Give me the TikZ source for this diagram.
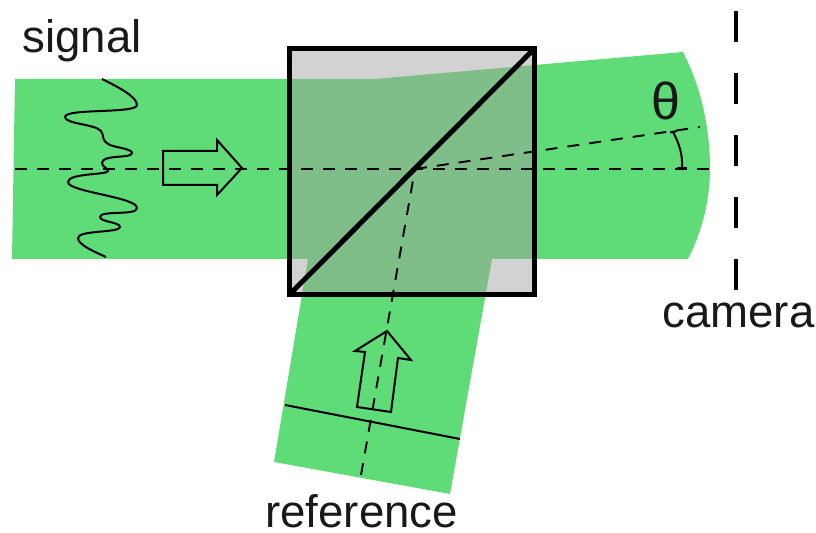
\documentclass[tikz,border=0pt]{standalone}
\usepackage{fontspec}
\setmainfont{Liberation Sans}
\definecolor{beamgreen}{HTML}{5FDC78}
\definecolor{overlapgreen}{HTML}{7FBD89}
\definecolor{cubegray}{HTML}{D2D2D2}
\tikzset{
    axisline/.style={black, line width=0.95pt, dash pattern=on 6pt off 5pt},
    thinline/.style={black, line width=1pt},
    labeltext/.style={anchor=base west, inner sep=0pt, font=\fontsize{22.8}{26}\selectfont, text=black!90}
}
\begin{document}
\begin{tikzpicture}[x=0.5pt,y=-0.5pt]
    \useasboundingbox (0,0) rectangle (816,533);

    % Beam outlines
    \def\signalbeam{(15,79) -- (375,79) -- (683,52) .. controls (700,85) and (710,125) .. (710,169) .. controls (710,200) and (702,232) .. (688,259) -- (12,259) -- cycle}
    \def\referencebeam{(308,259) -- (492,259) -- (450,494) -- (274,462) -- cycle}
    \fill[beamgreen] \signalbeam;
    \fill[beamgreen] \referencebeam;

    % Cube interior
    \fill[cubegray] (289.5,48.5) rectangle (534.5,294.5);
    \begin{scope}
        \clip (289.5,48.5) rectangle (534.5,294.5);
        \fill[overlapgreen] \signalbeam;
        \fill[overlapgreen] \referencebeam;
    \end{scope}

    % Points on the axes
    \coordinate (signalstart) at (15,169);
    \coordinate (signalend) at (710,169);
    \coordinate (split) at (415,169);
    \coordinate (tiltedend) at (700,127);
    \coordinate (referenceend) at (361,475);

    % Axes
    \draw[axisline] (signalstart) -- (signalend);
    \draw[axisline] (split) -- (tiltedend);
    \draw[axisline] (referenceend) -- (split);

    % Cube and splitting surface
    \draw[black, line width=2.5pt] (289.5,48.5) rectangle (534.5,294.5);
    \draw[black, line width=2.5pt] (289.5,294.5) -- (534.5,48.5);

    % Signal waveform
    \draw[thinline] (102,79) .. controls (120,88) and (137,97) .. (137,105)
        .. controls (137,114) and (65,108) .. (65,117)
        .. controls (65,124) and (95,124) .. (101,131)
        .. controls (105,136) and (100,140) .. (110,145)
        .. controls (118,148) and (132,149) .. (132,153)
        .. controls (132,159) and (102,154) .. (102,163)
        .. controls (102,167) and (108,168) .. (108,171)
        .. controls (108,175) and (68,173) .. (68,182)
        .. controls (68,192) and (137,197) .. (137,208)
        .. controls (137,216) and (100,210) .. (100,217)
        .. controls (100,222) and (120,222) .. (120,227)
        .. controls (120,233) and (78,230) .. (78,238)
        .. controls (78,245) and (95,252) .. (106,257);

    % Arrows
    \draw[thinline] (163,151) -- (217,151) -- (217,140) -- (242,168) -- (217,195) -- (217,185) -- (163,185) -- cycle;
    \draw[thinline] (357,407) -- (391,412) -- (398,358) -- (411,360) -- (387,331) -- (355,351) -- (365,352) -- cycle;

    % Reference wavefront
    \coordinate (frontleft) at (285,405);
    \coordinate (frontright) at (460,439);
    \draw[thinline] (frontleft) -- (frontright);

    % Camera plane
    \coordinate (cameratop) at (736,11);
    \coordinate (camerabottom) at (736,290);
    \draw[black, line width=2pt, dash pattern=on 15.5pt off 15.5pt] (cameratop) -- (camerabottom);

    % Angle
    \coordinate (angletop) at (673,132);
    \coordinate (anglebottom) at (682,168);
    \draw[thinline] (angletop) .. controls (679,143) and (683,155) .. (anglebottom);
    \draw[thinline] (670,132.5) -- (677,131);
    \draw[thinline] (677,168) -- (687,168);

    % Labels
    \node[labeltext] (signallabel) at (22,53) {signal};
    \node[labeltext] (cameralabel) at (662,328) {camera};
    \node[labeltext] (referencelabel) at (265,528) {reference};
    \node[inner sep=0pt, font=\fontsize{26}{30}\selectfont, text=black!90] (thetalabel) at (665.5,101) {θ};
\end{tikzpicture}
\end{document}
